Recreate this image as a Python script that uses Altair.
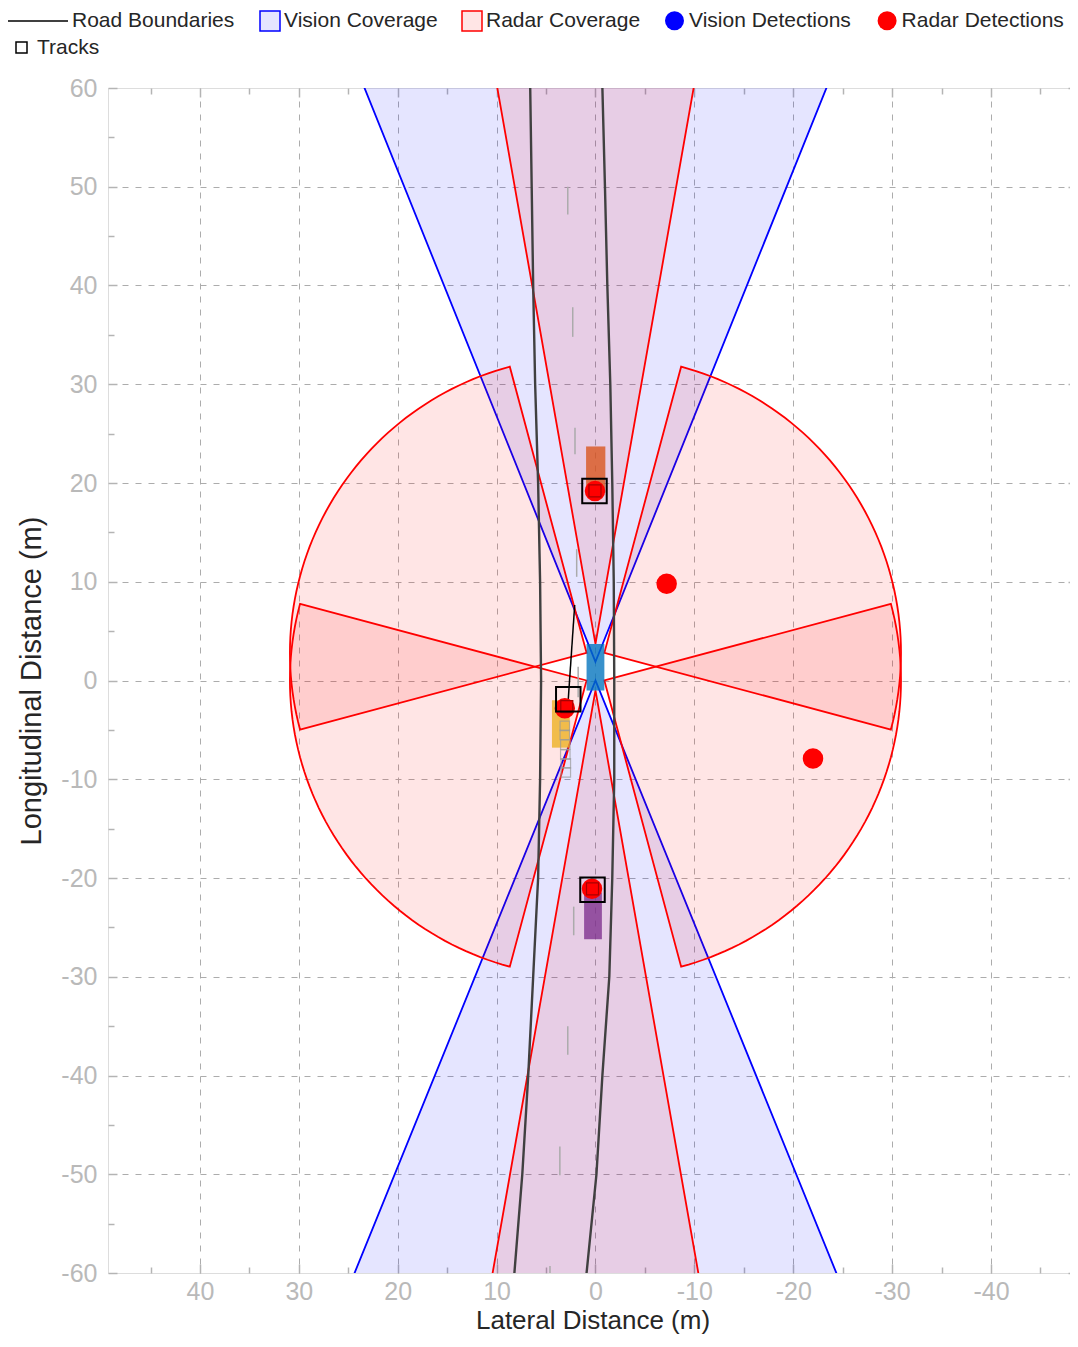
import altair as alt
import numpy as np
import pandas as pd

FONT = "Liberation Sans"

# ---------------- data ----------------
LAT_DOMAIN = [-48.7, 49.3]      # lateral distance (m), drawn reversed (left = positive)
LONG_DOMAIN = [-60, 60]         # longitudinal distance (m)

road_long = [60, 50, 40, 30, 20, 10, 0, -10, -20, -30, -40, -50, -60]
road_left_lat = [6.6, 6.45, 6.3, 6.1, 5.8, 5.6, 5.5, 5.6, 5.8, 6.3, 6.8, 7.4, 8.2]
road_right_lat = [-0.7, -0.96, -1.2, -1.5, -1.7, -1.85, -1.9, -1.9, -1.7, -1.4, -0.7, -0.1, 0.9]

lane_dash_long_start = [50.0, 37.8, 25.6, 13.3, 1.4, -22.9, -35.0, -47.2, -59.3]
lane_dash_long_end = [47.2, 34.8, 22.9, 10.5, -1.7, -25.8, -37.9, -50.1, -62.2]
lane_dash_lat = [2.8, 2.3, 2.07, 1.9, 1.75, 2.2, 2.8, 3.6, 4.6]

vehicle_names = ["Ego", "Lead", "Adjacent", "Follower"]
vehicle_long_rear = [-1.0, 19.0, -6.8, -26.2]
vehicle_long_front = [3.7, 23.7, -2.0, -21.5]
vehicle_lat_right = [-0.9, -1.0, 2.6, -0.65]
vehicle_lat_left = [0.9, 0.95, 4.4, 1.15]
vehicle_colors = ["#0072BD", "#D95319", "#EDB120", "#7E2F8E"]

radar_det_lat = [0.05, 3.1, 0.35, -7.2, -22.0]
radar_det_long = [19.2, -2.8, -21.1, 9.8, -7.9]

radar_sq_lat = [0.05, 2.9, 0.3]
radar_sq_long = [19.2, -2.65, -21.1]

track_lat = [0.1, 2.75, 0.3]
track_long = [19.2, -1.9, -21.2]

track_hist_lat = [3.1, 3.1, 3.05, 3.05, 3.0, 3.0]
track_hist_long = [-4.6, -5.5, -6.5, -7.5, -8.4, -9.3]

track_vel_lat = [2.75, 2.1]
track_vel_long = [-1.9, 7.65]

# sensors: mounting position (long, lat), yaw (deg), field of view (deg), range (m)
vision_long = [1.9, 0.0]
vision_lat = [0.0, 0.0]
vision_yaw = [0, 180]
vision_fov = [43.8, 44.2]
vision_range = [150, 150]

radar_long = [3.7, -1.0, 2.8, 2.8, 0.0, 0.0]
radar_lat = [0.0, 0.0, 0.9, -0.9, 0.9, -0.9]
radar_yaw = [0, 180, 60, -60, 120, -120]
radar_fov = [20, 20, 90, 90, 90, 90]
radar_range = [174, 174, 30, 30, 30, 30]

# ---------------- tables ----------------
def coverage_table(longs, lats, yaws, fovs, ranges, label, sensor):
    rows = []
    for k, (l0, a0, yaw, fov, rng) in enumerate(zip(longs, lats, yaws, fovs, ranges)):
        th = np.radians(np.linspace(yaw - fov / 2, yaw + fov / 2, 61))
        pl = [l0] + list(l0 + rng * np.cos(th))
        pa = [a0] + list(a0 + rng * np.sin(th))
        for i, (lo, la) in enumerate(zip(pl, pa)):
            rows.append({"id": f"{sensor}{k}", "i": i, "lat": la, "long": lo,
                         "cov": label, "sensor": sensor})
    return pd.DataFrame(rows)

vis_df = coverage_table(vision_long, vision_lat, vision_yaw, vision_fov, vision_range,
                        "Vision Coverage", "vision")
rad_df = coverage_table(radar_long, radar_lat, radar_yaw, radar_fov, radar_range,
                        "Radar Coverage", "radar")

road_df = pd.DataFrame(
    [{"side": "L", "lat": a, "long": l, "kind": "Road Boundaries"} for l, a in zip(road_long, road_left_lat)]
    + [{"side": "R", "lat": a, "long": l, "kind": "Road Boundaries"} for l, a in zip(road_long, road_right_lat)]
)
lane_df = pd.DataFrame(
    [{"dash": k, "lat": a, "long": s} for k, (s, a) in enumerate(zip(lane_dash_long_start, lane_dash_lat))]
    + [{"dash": k, "lat": a, "long": e} for k, (e, a) in enumerate(zip(lane_dash_long_end, lane_dash_lat))]
)
veh_df = pd.DataFrame({"name": vehicle_names, "rear": vehicle_long_rear, "front": vehicle_long_front,
                       "right": vehicle_lat_right, "left": vehicle_lat_left})
det_df = pd.DataFrame({"lat": radar_det_lat, "long": radar_det_long, "item": "Radar Detections"})
sq_df = pd.DataFrame({"lat": radar_sq_lat, "long": radar_sq_long})
trk_df = pd.DataFrame({"lat": track_lat, "long": track_long, "item": "Tracks"})
hist_df = pd.DataFrame({"lat": track_hist_lat, "long": track_hist_long})
vel_df = pd.DataFrame({"lat": track_vel_lat, "long": track_vel_long, "i": [0, 1]})

# ---------------- styling ----------------
XS = alt.Scale(domain=LAT_DOMAIN, reverse=True, nice=False, zero=False)
YS = alt.Scale(domain=LONG_DOMAIN, nice=False, zero=False)

AXIS_COLOR = "#b4b4b4"
LABEL_COLOR = "#b9b9b9"
TITLE_COLOR = "#262626"
GRID_COLOR = "#acacac"
TEXT_COLOR = "#262626"

major_x = list(range(-40, 41, 10))
minor_x = list(range(-45, 46, 10))
major_y = list(range(-60, 61, 10))
minor_y = list(range(-55, 56, 10))
grid_y = list(range(-50, 51, 10))


def tick_axis(orient, values, size):
    return alt.Axis(orient=orient, values=values, tickSize=size, offset=-size, domain=False,
                    grid=False, ticks=True, tickColor=AXIS_COLOR, tickWidth=1.5,
                    labels=False, title=None)


x_main = alt.Axis(orient="bottom", values=major_x, tickSize=9, offset=-9, domain=False, grid=False,
                  tickColor=AXIS_COLOR, tickWidth=1.5, labelExpr="toString(datum.value)",
                  labelFont=FONT, labelFontSize=25, labelColor=LABEL_COLOR, labelPadding=6,
                  title="Lateral Distance (m)", titleFont=FONT, titleFontSize=26,
                  titleFontWeight="normal", titleColor=TITLE_COLOR, titlePadding=3.5)
y_main = alt.Axis(orient="left", values=major_y, tickSize=9, offset=-9, domain=False, grid=False,
                  tickColor=AXIS_COLOR, tickWidth=1.5, labelExpr="toString(datum.value)",
                  labelFont=FONT, labelFontSize=25, labelColor=LABEL_COLOR, labelPadding=11,
                  title="Longitudinal Distance (m)", titleFont=FONT, titleFontSize=29,
                  titleFontWeight="normal", titleColor=TITLE_COLOR, titlePadding=14)
x_grid = alt.Axis(orient="bottom", values=major_x, grid=True, gridDash=[6, 7], gridColor=GRID_COLOR,
                  gridWidth=1, ticks=False, labels=False, domain=False, title=None)
y_grid = alt.Axis(orient="left", values=grid_y, grid=True, gridDash=[6, 7], gridColor=GRID_COLOR,
                  gridWidth=1, ticks=False, labels=False, domain=False, title=None)


def legend(x, y, shape, size, sw, offset, colpad=10, **extra):
    return alt.Legend(title=None, orient="none", legendX=x, legendY=y, direction="horizontal",
                      symbolType=shape, symbolSize=size, symbolStrokeWidth=sw, symbolOpacity=1,
                      labelOffset=offset, columnPadding=colpad, padding=0, labelLimit=400,
                      labelFont=FONT, labelFontSize=21, labelColor=TEXT_COLOR, **extra)


COV_STROKE = alt.Scale(domain=["Vision Coverage", "Radar Coverage"], range=["blue", "red"])
COV_FILL = alt.Scale(domain=["vision", "radar"], range=["blue", "red"])
cov_legend = legend(151, -78, "square", 400, 1.5, 3, 21,
                    symbolFillColor=alt.ExprRef(
                        expr="(datum.value == 'Vision Coverage' ? '#e5e5ff' : '#ffe5e5')"))

# ---------------- layers ----------------
vision = alt.Chart(vis_df).mark_line(interpolate="linear-closed", fillOpacity=0.1, strokeWidth=1.8,
                                     clip=True).encode(
    x=alt.X("lat:Q", scale=XS, axis=x_main),
    y=alt.Y("long:Q", scale=YS, axis=y_main),
    detail="id:N",
    order="i:Q",
    fill=alt.Fill("sensor:N", scale=COV_FILL, legend=None),
    stroke=alt.Stroke("cov:N", scale=COV_STROKE, legend=cov_legend),
)

radar = alt.Chart(rad_df).mark_line(interpolate="linear-closed", fillOpacity=0.1, strokeWidth=1.8,
                                    clip=True).encode(
    x=alt.X("lat:Q", scale=XS, axis=tick_axis("bottom", minor_x, 6)),
    y=alt.Y("long:Q", scale=YS, axis=tick_axis("left", minor_y, 6)),
    detail="id:N",
    order="i:Q",
    fill=alt.Fill("sensor:N", scale=COV_FILL, legend=None),
    stroke=alt.Stroke("cov:N", scale=COV_STROKE, legend=cov_legend),
)

lanes = alt.Chart(lane_df).mark_line(color="#ababab", strokeWidth=1.5, clip=True).encode(
    x=alt.X("lat:Q", scale=XS, axis=tick_axis("top", major_x, 9)),
    y=alt.Y("long:Q", scale=YS, axis=tick_axis("right", major_y, 9)),
    detail="dash:N",
    order="long:Q",
)

roads = alt.Chart(road_df).mark_line(strokeWidth=2.4, clip=True).encode(
    x=alt.X("lat:Q", scale=XS, axis=tick_axis("top", minor_x, 6)),
    y=alt.Y("long:Q", scale=YS, axis=tick_axis("right", minor_y, 6)),
    detail="side:N",
    order="long:Q",
    color=alt.Color("kind:N", scale=alt.Scale(domain=["Road Boundaries"], range=["#404040"]),
                    legend=legend(-81, -78, "M-3,0L3,0", 400, 2, 23)),
)

vehicles = alt.Chart(veh_df).mark_rect(opacity=0.78, clip=True).encode(
    x=alt.X("right:Q", scale=XS, axis=x_grid),
    x2="left:Q",
    y=alt.Y("rear:Q", scale=YS, axis=y_grid),
    y2="front:Q",
    color=alt.Color("name:N", scale=alt.Scale(domain=vehicle_names, range=vehicle_colors), legend=None),
)

history = alt.Chart(hist_df).mark_point(shape="square", filled=False, size=90, color="#9a9a9a",
                                        strokeWidth=1.2, clip=True).encode(
    x=alt.X("lat:Q", scale=XS, axis=None),
    y=alt.Y("long:Q", scale=YS, axis=None),
)

velocity = alt.Chart(vel_df).mark_line(color="black", strokeWidth=1.5, clip=True).encode(
    x=alt.X("lat:Q", scale=XS, axis=None),
    y=alt.Y("long:Q", scale=YS, axis=None),
    order="i:Q",
)

detections = alt.Chart(det_df).mark_point(shape="circle", filled=True, size=420, opacity=1,
                                          clip=True).encode(
    x=alt.X("lat:Q", scale=XS, axis=None),
    y=alt.Y("long:Q", scale=YS, axis=None),
    color=alt.Color("item:N", scale=alt.Scale(domain=["Vision Detections", "Radar Detections"],
                                              range=["blue", "red"]),
                    legend=legend(556, -78, "circle", 361, 0, 4, 25.6)),
)

squares = alt.Chart(sq_df).mark_point(shape="square", filled=True, size=144, fill="#ff0000",
                                      stroke="#a80000", strokeWidth=1.2, opacity=1, clip=True).encode(
    x=alt.X("lat:Q", scale=XS, axis=None),
    y=alt.Y("long:Q", scale=YS, axis=None),
)

tracks = alt.Chart(trk_df).mark_point(shape="square", filled=False, size=600, strokeWidth=2,
                                      opacity=1, clip=True).encode(
    x=alt.X("lat:Q", scale=XS, axis=None),
    y=alt.Y("long:Q", scale=YS, axis=None),
    color=alt.Color("item:N", scale=alt.Scale(domain=["Tracks"], range=["black"]),
                    legend=legend(-97, -51, "square", 121, 1.5, 5)),
)

chart = alt.layer(
    vision, radar, lanes, roads, vehicles, history, velocity, detections, squares, tracks
).resolve_scale(
    color="independent"
).resolve_axis(
    x="independent", y="independent"
).properties(
    width=969, height=1185,
    autosize=alt.AutoSizeParams(type="none"),
    padding={"left": 100, "top": 80, "right": -7, "bottom": 61},
).configure_view(
    stroke=AXIS_COLOR, strokeWidth=2
).configure(font=FONT)

chart.save("out.html", embed_options={"renderer": "svg", "actions": False})
